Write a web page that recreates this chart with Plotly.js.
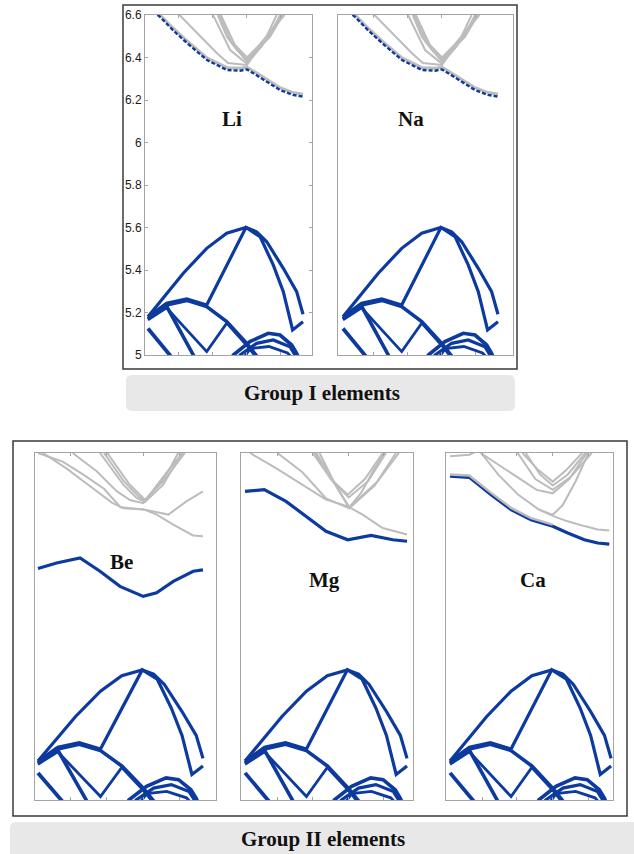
<!DOCTYPE html>
<html>
<head>
<meta charset="utf-8">
<script src="https://cdn.plot.ly/plotly-3.0.1.min.js"></script>
<style>html,body{margin:0;padding:0;background:#fff}</style>
</head>
<body>
<div id="chart" style="width:634px;height:854px"></div>
<script>
// ---- band-structure data: k is the normalised path coordinate (0..1), E in eV ----
const elements = ['Li', 'Na', 'Be', 'Mg', 'Ca'];
const groupTitles = ['Group I elements', 'Group II elements'];
const kTicks = [0.2, 0.415, 0.637, 0.857];
const energyTicks = [5, 5.2, 5.4, 5.6, 5.8, 6, 6.2, 6.4, 6.6];
const energyTickText = ['5', '5.2', '5.4', '5.6', '5.8', '6', '6.2', '6.4', '6.6'];
const energyRange = [5, 6.6];

// valence bands (common to all five elements)
const vb1K = [0, 0.099, 0.228, 0.379, 0.508, 0.632, 0.701, 0.766, 0.873, 0.959, 1.0];
const vb1E = [5.18, 5.267, 5.385, 5.502, 5.573, 5.6, 5.58, 5.533, 5.408, 5.298, 5.192];
const vb2K = [0, 0.12, 0.25, 0.379, 0.632, 0.723, 0.808, 0.873, 0.933, 1.0];
const vb2E = [5.18, 5.243, 5.264, 5.235, 5.6, 5.557, 5.424, 5.298, 5.118, 5.157];
const vb3K = [0, 0.12, 0.25, 0.379, 0.508, 0.637, 0.75];
const vb3E = [5.17, 5.235, 5.257, 5.228, 5.157, 5.055, 4.95];
const vb4K = [0, 0.12, 0.379, 0.508, 0.637, 0.75];
const vb4E = [5.165, 5.222, 5.016, 5.15, 5.046, 4.94];
const vb5K = [0, 0.12, 0.315];
const vb5E = [5.17, 5.23, 4.97];
const vb6K = [0, 0.175];
const vb6E = [5.125, 4.97];
const vb7K = [0.53, 0.551, 0.658, 0.776, 0.852, 0.927, 0.959, 0.98];
const vb7E = [4.97, 5.0, 5.063, 5.102, 5.094, 5.047, 5.008, 4.97];
const vb8K = [0.575, 0.594, 0.701, 0.808, 0.916, 0.965];
const vb8E = [4.97, 5.0, 5.055, 5.071, 5.039, 4.98];
const vb9K = [0.6, 0.66, 0.78, 0.9, 0.95];
const vb9E = [4.97, 5.03, 5.04, 5.01, 4.97];

// Group I conduction bands (Li, Na)
const g1LowK = [0, 0.077, 0.161, 0.252, 0.381, 0.51, 0.594, 0.639, 0.677, 0.768, 0.852, 0.935, 1.0];
const g1LowE = [6.635, 6.592, 6.529, 6.468, 6.388, 6.341, 6.338, 6.344, 6.327, 6.285, 6.247, 6.224, 6.216];
const g1PairE = [6.645, 6.601, 6.539, 6.478, 6.398, 6.352, 6.349, 6.354, 6.338, 6.296, 6.258, 6.235, 6.227];
const g1c3K = [0.19, 0.316, 0.445, 0.516, 0.639, 0.703, 0.787, 0.87];
const g1c3E = [6.61, 6.515, 6.42, 6.374, 6.365, 6.435, 6.497, 6.6];
const g1c4K = [0.45, 0.51, 0.574, 0.639, 0.703, 0.787, 0.852];
const g1c4E = [6.6, 6.497, 6.435, 6.388, 6.435, 6.506, 6.6];
const g1c5K = [0.42, 0.53, 0.639, 0.74, 0.83];
const g1c5E = [6.6, 6.435, 6.37, 6.46, 6.6];
const g1c6K = [0.47, 0.56, 0.639, 0.72, 0.88];
const g1c6E = [6.6, 6.46, 6.40, 6.46, 6.6];
const g1c7K = [0.46, 0.54, 0.639, 0.73, 0.86];
const g1c7E = [6.6, 6.47, 6.38, 6.45, 6.6];

// Be conduction bands
const beLowK = [0, 0.113, 0.255, 0.376, 0.497, 0.638, 0.719, 0.82, 0.941, 1.0];
const beLowE = [6.067, 6.093, 6.116, 6.055, 5.985, 5.939, 5.955, 6.008, 6.055, 6.061];
const beC1K = [0, 0.15, 0.275, 0.4, 0.5, 0.64, 0.79, 0.9, 1.0];
const beC1E = [6.6, 6.56, 6.5, 6.435, 6.35, 6.34, 6.316, 6.377, 6.423];
const beC2K = [0.03, 0.17, 0.31, 0.45, 0.52, 0.64, 0.72, 0.82, 0.94, 1.0];
const beC2E = [6.6, 6.53, 6.45, 6.37, 6.345, 6.34, 6.316, 6.27, 6.22, 6.216];
const beC3K = [0.21, 0.356, 0.477, 0.558, 0.638, 0.72, 0.82, 0.88];
const beC3E = [6.6, 6.516, 6.424, 6.383, 6.369, 6.45, 6.55, 6.6];
const beC4K = [0.376, 0.517, 0.598, 0.648, 0.759, 0.82, 0.871];
const beC4E = [6.6, 6.454, 6.393, 6.374, 6.454, 6.531, 6.6];
const beC5K = [0.4, 0.52, 0.61, 0.648, 0.74, 0.8, 0.85];
const beC5E = [6.6, 6.47, 6.40, 6.38, 6.46, 6.53, 6.6];
const beC6K = [0.42, 0.55, 0.648, 0.76, 0.89];
const beC6E = [6.6, 6.46, 6.385, 6.47, 6.6];

// Mg conduction bands
const mgLowK = [0, 0.119, 0.253, 0.377, 0.5, 0.634, 0.778, 0.912, 1.0];
const mgLowE = [6.423, 6.431, 6.377, 6.308, 6.239, 6.2, 6.22, 6.2, 6.193];
const mgC1K = [0, 0.048, 0.191, 0.356, 0.5, 0.634, 0.726, 0.85, 1.0];
const mgC1E = [6.62, 6.592, 6.53, 6.454, 6.385, 6.354, 6.316, 6.254, 6.224];
const mgC2K = [0.2, 0.356, 0.5, 0.64, 0.72, 0.8, 0.86];
const mgC2E = [6.6, 6.51, 6.39, 6.346, 6.42, 6.53, 6.6];
const mgC3K = [0.418, 0.53, 0.634, 0.74, 0.85];
const mgC3E = [6.6, 6.48, 6.408, 6.48, 6.6];
const mgC4K = [0.44, 0.55, 0.644, 0.8, 0.932];
const mgC4E = [6.6, 6.46, 6.346, 6.45, 6.6];
const mgC5K = [0.43, 0.54, 0.64, 0.76, 0.87];
const mgC5E = [6.6, 6.47, 6.395, 6.47, 6.6];
const mgC6K = [0.46, 0.56, 0.644, 0.82, 0.95];
const mgC6E = [6.6, 6.45, 6.35, 6.47, 6.6];

// Ca conduction bands
const caLowK = [0, 0.12, 0.255, 0.379, 0.503, 0.638, 0.731, 0.834, 0.917, 0.989];
const caLowE = [6.493, 6.488, 6.408, 6.339, 6.292, 6.262, 6.231, 6.2, 6.185, 6.18];
const caC1K = [0, 0.12, 0.255, 0.379, 0.503, 0.638];
const caC1E = [6.501, 6.496, 6.416, 6.347, 6.3, 6.27];
const caC2K = [0.193, 0.3, 0.42, 0.55, 0.638, 0.73, 0.834, 0.917, 0.99];
const caC2E = [6.6, 6.5, 6.41, 6.34, 6.31, 6.285, 6.263, 6.247, 6.243];
const caC3K = [0, 0.12, 0.2];
const caC3E = [6.585, 6.592, 6.62];
const caC4K = [0.19, 0.414, 0.538, 0.638, 0.74, 0.85];
const caC4E = [6.6, 6.49, 6.43, 6.414, 6.48, 6.6];
const caC5K = [0.45, 0.55, 0.638, 0.72, 0.82];
const caC5E = [6.6, 6.52, 6.468, 6.52, 6.6];
const caC6K = [0.47, 0.56, 0.638, 0.73, 0.84];
const caC6E = [6.6, 6.5, 6.45, 6.5, 6.6];
const caC7K = [0.55, 0.638, 0.7, 0.78, 0.86];
const caC7E = [6.34, 6.315, 6.36, 6.47, 6.6];
const caC8K = [0.42, 0.53, 0.638, 0.75, 0.88];
const caC8E = [6.6, 6.48, 6.43, 6.49, 6.6];

// ---- styling and page geometry (pixels) ----
const W = 634, H = 854;
const BLUE = 'rgb(12,58,158)';
const GREY = 'rgb(188,188,188)';
const px = x => x / W;
const py = y => 1 - y / H;

const panelBoxes = [            // [left, right, top, bottom]
  [145, 312, 15, 355],
  [338, 513, 15, 355],
  [35, 216, 453, 800],
  [241, 413, 453, 800],
  [446, 613, 453, 800]
];
const kRanges = [[-0.019, 1.058], [-0.032, 1.097], [-0.018, 1.079], [-0.025, 1.037], [-0.025, 1.012]];
const labelSpots = [[232, 119], [411, 119], [121, 562], [324, 580], [533, 580]];

const valence = [
  [vb1K, vb1E, 3.2], [vb2K, vb2E, 3.2], [vb3K, vb3E, 3.6], [vb4K, vb4E, 2.8],
  [vb5K, vb5E, 3.6], [vb6K, vb6E, 3.8], [vb7K, vb7E, 3.6], [vb8K, vb8E, 3.2], [vb9K, vb9E, 2.8]
];
const groupIGrey = [[g1c3K, g1c3E], [g1c4K, g1c4E], [g1c5K, g1c5E], [g1c6K, g1c6E], [g1c7K, g1c7E]];
const conduction = {
  Be: {grey: [[beC1K, beC1E], [beC2K, beC2E], [beC3K, beC3E], [beC4K, beC4E], [beC5K, beC5E], [beC6K, beC6E]], low: [beLowK, beLowE]},
  Mg: {grey: [[mgC1K, mgC1E], [mgC2K, mgC2E], [mgC3K, mgC3E], [mgC4K, mgC4E], [mgC5K, mgC5E], [mgC6K, mgC6E]], low: [mgLowK, mgLowE]},
  Ca: {grey: [[caC2K, caC2E], [caC3K, caC3E], [caC4K, caC4E], [caC5K, caC5E], [caC6K, caC6E], [caC7K, caC7E], [caC8K, caC8E]], low: [caLowK, caLowE]}
};

const traces = [];
function line(k, e, id, color, width, dash) {
  traces.push({
    type: 'scatter', mode: 'lines', x: k, y: e,
    xaxis: 'x' + id, yaxis: 'y' + id, hoverinfo: 'skip',
    line: {color: color, width: width, dash: dash || 'solid'}
  });
}

const layout = {
  width: W, height: H, margin: {l: 0, r: 0, t: 0, b: 0},
  paper_bgcolor: '#fff', plot_bgcolor: '#fff', showlegend: false,
  shapes: [], annotations: []
};

elements.forEach((el, i) => {
  const id = i === 0 ? '' : String(i + 1);
  const b = panelBoxes[i];
  const axCommon = {
    showline: true, linecolor: '#a4a4a4', linewidth: 1,
    ticklen: 3, tickcolor: '#a4a4a4', tickwidth: 1,
    showgrid: false, zeroline: false, fixedrange: true
  };
  layout['xaxis' + id] = Object.assign({}, axCommon, {
    domain: [px(b[0]), px(b[1])], range: kRanges[i], anchor: 'y' + id,
    mirror: 'ticks', ticks: 'inside',
    tickmode: 'array', tickvals: kTicks, showticklabels: false
  });
  layout['yaxis' + id] = Object.assign({}, axCommon, {
    domain: [py(b[3]), py(b[2])], range: energyRange, anchor: 'x' + id,
    mirror: i === 0 ? 'ticks' : true, ticks: i === 0 ? 'inside' : '',
    tickmode: 'array', tickvals: energyTicks, ticktext: energyTickText,
    showticklabels: i === 0,
    tickfont: {family: 'Liberation Sans, Arial, sans-serif', size: 12, color: '#1a1a1a'}
  });

  // conduction bands
  if (i < 2) {
    groupIGrey.forEach(([k, e]) => line(k, e, id, GREY, 2));
    line(g1LowK, g1PairE, id, GREY, 3);
    line(g1LowK, g1LowE, id, BLUE, 2.4, '4px,2px');
  } else {
    const c = conduction[el];
    c.grey.forEach(([k, e]) => line(k, e, id, GREY, 2));
    line(c.low[0], c.low[1], id, BLUE, 3.2);
    if (el === 'Ca') line(caC1K, caC1E, id, GREY, 2.4);
  }
  // valence bands
  valence.forEach(([k, e, w]) => line(k, e, id, BLUE, w));

  layout.annotations.push({
    xref: 'paper', yref: 'paper', x: px(labelSpots[i][0]), y: py(labelSpots[i][1]),
    xanchor: 'center', yanchor: 'middle', showarrow: false,
    text: '<b>' + el + '</b>',
    font: {family: 'Liberation Serif, Times New Roman, serif', size: 21, color: '#111'}
  });
});

// frames around each group
function rect(x0, y0, x1, y1) {
  layout.shapes.push({type: 'rect', xref: 'paper', yref: 'paper', layer: 'below',
    x0: px(x0), x1: px(x1), y0: py(y1), y1: py(y0), line: {color: '#3a3a3a', width: 1.5}});
}
rect(123, 5, 517, 369);
rect(13, 441, 627, 816);

// rounded grey caption bars
function roundBar(x0, y0, x1, y1, r) {
  const P = (x, y) => px(x).toFixed(5) + ',' + py(y).toFixed(5);
  const d = 'M' + P(x0 + r, y0) + ' L' + P(x1 - r, y0) + ' Q' + P(x1, y0) + ' ' + P(x1, y0 + r) +
    ' L' + P(x1, y1 - r) + ' Q' + P(x1, y1) + ' ' + P(x1 - r, y1) +
    ' L' + P(x0 + r, y1) + ' Q' + P(x0, y1) + ' ' + P(x0, y1 - r) +
    ' L' + P(x0, y0 + r) + ' Q' + P(x0, y0) + ' ' + P(x0 + r, y0) + ' Z';
  layout.shapes.push({type: 'path', xref: 'paper', yref: 'paper', layer: 'below',
    path: d, fillcolor: '#e8e8e8', line: {width: 0}});
}
roundBar(126, 375, 515, 411, 6);
roundBar(10, 822, 642, 862, 6);

[[322, 393], [323, 839]].forEach((pos, j) => {
  layout.annotations.push({
    xref: 'paper', yref: 'paper', x: px(pos[0]), y: py(pos[1]),
    xanchor: 'center', yanchor: 'middle', showarrow: false,
    text: '<b>' + groupTitles[j] + '</b>',
    font: {family: 'Liberation Serif, Times New Roman, serif', size: 21, color: '#111'}
  });
});

Plotly.newPlot('chart', traces, layout, {staticPlot: true, displayModeBar: false});
</script>
</body>
</html>
